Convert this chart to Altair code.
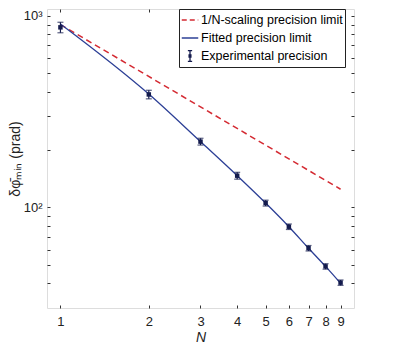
import altair as alt
import pandas as pd

# ---- data ----
SERIES = ["1/N-scaling precision limit", "Fitted precision limit", "Experimental precision"]
COLORS = ["#d42a32", "#2c3f96", "#141b4d"]

N_exp = [1, 2, 3, 4, 5, 6, 7, 8, 9]
exp_val = [870, 388, 220, 146, 105, 79, 61, 49, 40.3]
exp_err = [55, 20, 9, 6, 3.7, 2.6, 2.0, 1.6, 1.3]

N_fit = [1, 2, 3, 4, 5, 6, 7, 8, 9]
fit_val = [907, 390, 220, 146, 105, 79, 61, 49, 40]

N_lim = [1, 9]
lim_val = [900, 124]

x_ticks = [1, 2, 3, 4, 5, 6, 7, 8, 9]
y_ticks = [40, 50, 60, 70, 80, 90, 100, 200, 300, 400, 500, 600, 700, 800, 900, 1000]
x_domain = [0.9, 10]
y_domain = [29.7, 1085]

# ---- tables ----
df_exp = pd.DataFrame({"N": N_exp, "val": exp_val, "err": exp_err})
df_exp["lo"] = df_exp["val"] - df_exp["err"]
df_exp["hi"] = df_exp["val"] + df_exp["err"]
df_exp["series"] = SERIES[2]
df_fit = pd.DataFrame({"N": N_fit, "val": fit_val, "series": SERIES[1]})
df_lim = pd.DataFrame({"N": N_lim, "val": lim_val, "series": SERIES[0]})

FONT = "Liberation Sans"
TICK = 3

xs = alt.Scale(type="log", domain=x_domain, nice=False)
ys = alt.Scale(type="log", domain=y_domain, nice=False)

xaxis = alt.Axis(values=x_ticks, format="d", domain=False, grid=False,
                 offset=-TICK, tickSize=TICK, tickColor="#333", tickWidth=1,
                 labelFont=FONT, labelFontSize=13, labelColor="#222", labelPadding=7,
                 title="N", titleFont=FONT, titleFontSize=14, titleFontStyle="italic",
                 titleFontWeight="normal", titleColor="#222", titlePadding=2)
yaxis = alt.Axis(values=y_ticks, domain=False, grid=False,
                 offset=-TICK, tickSize=TICK, tickColor="#333", tickWidth=1,
                 labelExpr="datum.value == 100 ? '10²' : (datum.value == 1000 ? '10³' : '')",
                 labelFont=FONT, labelFontSize=13, labelColor="#222", labelPadding=5,
                 title="δφ̄ₘᵢₙ  (prad)", titleFont=FONT, titleFontSize=14,
                 titleFontWeight="normal", titleColor="#222", titlePadding=1)

EXP_PATH = "M-0.26,-0.66H0.26M0,-0.66V0.66M-0.26,0.66H0.26M-0.11,-0.2V0.2M0.11,-0.2V0.2"
legend = alt.Legend(
    orient="none", legendX=132, legendY=0, title=None, direction="vertical",
    fillColor="white", strokeColor="#222", padding=2,
    labelFont=FONT, labelFontSize=12.5, labelColor="black", labelOffset=2, labelLimit=300,
    symbolSize=272, symbolStrokeWidth=1.3, rowPadding=2,
    symbolType={"expr": "datum.value === 'Experimental precision' ? '" + EXP_PATH + "' : 'stroke'"},
    symbolDash={"expr": "datum.value === '1/N-scaling precision limit' ? [5,3] : [1,0]"},
)
color = alt.Color("series:N", scale=alt.Scale(domain=SERIES, range=COLORS), legend=legend)

X = alt.X("N:Q", scale=xs, axis=xaxis)

lim_line = alt.Chart(df_lim).mark_line(strokeWidth=1.5, strokeDash=[6, 4]).encode(
    x=X, y=alt.Y("val:Q", scale=ys, axis=yaxis), color=color)
fit_line = alt.Chart(df_fit).mark_line(strokeWidth=1.3, interpolate="monotone").encode(
    x=X, y=alt.Y("val:Q", scale=ys, axis=yaxis), color=color)
bars = alt.Chart(df_exp).mark_rule(color=COLORS[2], strokeWidth=1.2).encode(
    x=X, y=alt.Y("lo:Q", scale=ys, axis=yaxis), y2="hi:Q")
cap_lo = alt.Chart(df_exp).mark_tick(orient="horizontal", size=6, thickness=1.2, color=COLORS[2]).encode(
    x=X, y=alt.Y("lo:Q", scale=ys, axis=yaxis))
cap_hi = alt.Chart(df_exp).mark_tick(orient="horizontal", size=6, thickness=1.2, color=COLORS[2]).encode(
    x=X, y=alt.Y("hi:Q", scale=ys, axis=yaxis))
marks = alt.Chart(df_exp).mark_square(size=20, filled=True, opacity=1, color=COLORS[2]).encode(
    x=X, y=alt.Y("val:Q", scale=ys, axis=yaxis))

main = alt.layer(lim_line, fit_line, bars, cap_lo, cap_hi, marks)

# mirrored ticks on top and right
xaxis_top = alt.Axis(orient="top", values=x_ticks, labels=False, domain=False, grid=False,
                     offset=-TICK, tickSize=TICK, tickColor="#333", tickWidth=1, title=None)
yaxis_right = alt.Axis(orient="right", values=y_ticks, labels=False, domain=False, grid=False,
                       offset=-TICK, tickSize=TICK, tickColor="#333", tickWidth=1, title=None)
mirror = alt.Chart(df_fit).mark_line(opacity=0).encode(
    x=alt.X("N:Q", scale=xs, axis=xaxis_top),
    y=alt.Y("val:Q", scale=ys, axis=yaxis_right))

chart = alt.layer(main, mirror).resolve_scale(x="independent", y="independent").properties(
    width=307, height=299,
    padding={"left": 0, "top": 0, "right": 0, "bottom": 0},
).configure_view(stroke="#333", strokeWidth=1).configure(background="white")

chart.save("out.html", embed_options={"renderer": "svg", "actions": False})
